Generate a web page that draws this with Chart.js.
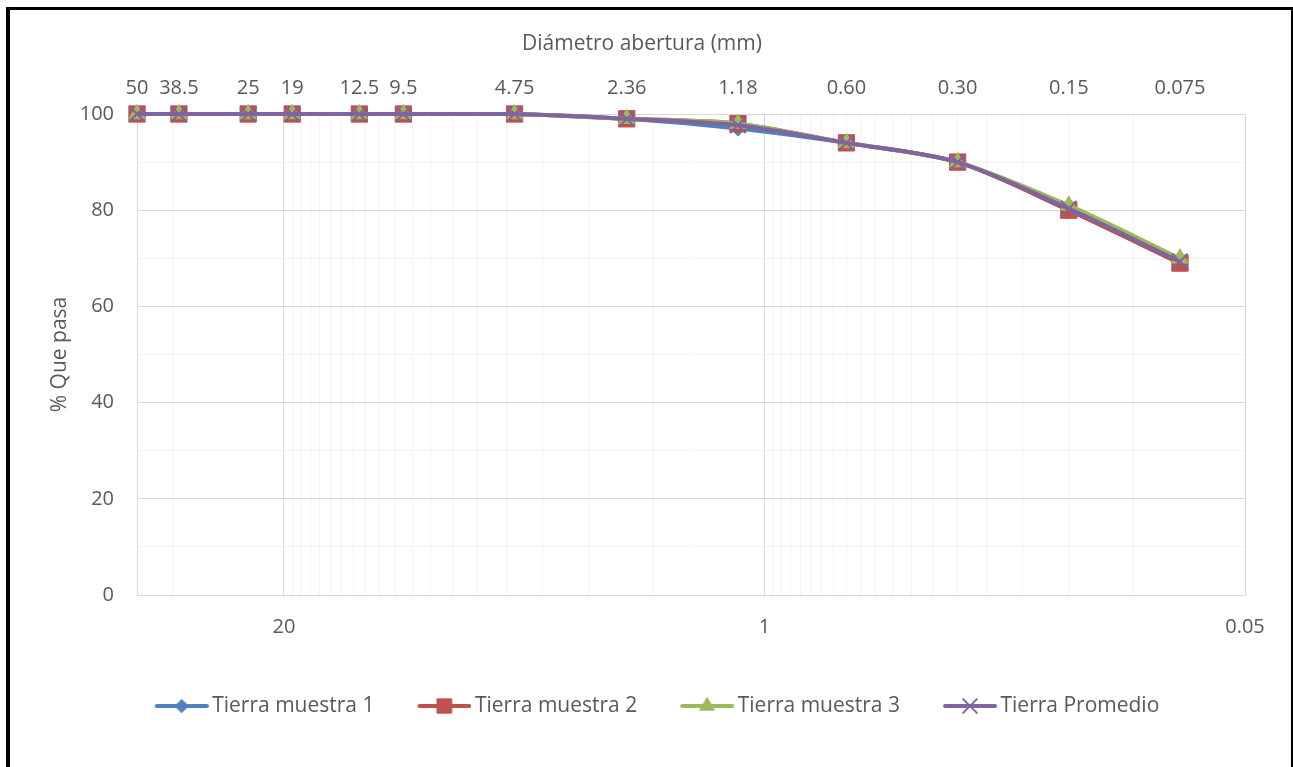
<!DOCTYPE html>
<html>
<head>
<meta charset="utf-8">
<title>Curva granulométrica</title>
<script src="https://cdn.jsdelivr.net/npm/chart.js@4.4.1/dist/chart.umd.min.js"></script>
<style>
  html, body { margin: 0; padding: 0; background: #fff; }
  #wrap { position: relative; width: 1293px; height: 767px; overflow: hidden; }
  #frame {
    position: absolute; left: 6px; top: 7px; width: 1281px; height: 800px;
    border-left: 4px solid #000; border-top: 3px solid #000; border-right: 2px solid #000;
  }
  #chart { position: absolute; left: 0; top: 0; }
</style>
</head>
<body>
<div id="wrap">
  <div id="frame"></div>
  <canvas id="chart" width="1293" height="767"></canvas>
</div>
<script>
// sieve openings (mm) and the labels printed above the plot
var sieveSizes = [50, 38.5, 25, 19, 12.5, 9.5, 4.75, 2.36, 1.18, 0.6, 0.3, 0.15, 0.075];
var sieveLabels = ['50', '38.5', '25', '19', '12.5', '9.5', '4.75', '2.36', '1.18', '0.60', '0.30', '0.15', '0.075'];

// % que pasa
var muestra1 = [100, 100, 100, 100, 100, 100, 100, 99, 97, 94, 90, 80, 69];
var muestra2 = [100, 100, 100, 100, 100, 100, 100, 99, 98, 94, 90, 80, 69];
var muestra3 = [100, 100, 100, 100, 100, 100, 100, 99, 98, 94, 90, 81, 70];
var promedio = [100, 100, 100, 100, 100, 100, 100, 99, 97.67, 94, 90, 80.33, 69.33];

// base-20 log axis
var axisMin = 0.05;
var axisMax = 50;
var majorTicks = [0.05, 1, 20];
var majorLabels = ['0.05', '1', '20'];

var GRID_MAJOR = '#d9d9d9';
var GRID_MINOR = '#f2f2f2';
var TEXT = '#595959';

Chart.defaults.font.family = '"Open Sans", sans-serif';
Chart.defaults.font.size = 20;
Chart.defaults.color = TEXT;

function majorIndex(v) {
    for (var i = 0; i < majorTicks.length; i++) {
        if (Math.abs(v - majorTicks[i]) / majorTicks[i] < 1e-6) return i;
    }
    return -1;
}

// gridlines at k * 20^n, like the minor ticks of a base-20 log axis
function baseTwentyTicks(min, max) {
    var out = [];
    for (var base = min; base <= max; base *= 20) {
        for (var k = 1; k < 20; k++) {
            var v = +(base * k).toPrecision(6);
            if (v <= max * (1 + 1e-9)) out.push({value: v});
        }
    }
    return out;
}

function series(label, values, color, style, radius, order) {
    return {
        label: label,
        data: sieveSizes.map(function (s, i) { return {x: s, y: values[i]}; }),
        borderColor: color,
        backgroundColor: color,
        borderWidth: 4,
        borderCapStyle: 'round',
        borderJoinStyle: 'round',
        pointStyle: style,
        pointRadius: radius,
        pointHoverRadius: radius,
        pointBackgroundColor: color,
        pointBorderColor: color,
        pointBorderWidth: style === 'crossRot' ? 2 : 1,
        tension: 0.3,
        clip: false,
        order: order,
        xAxisID: 'x',
        yAxisID: 'y'
    };
}

var datasets = [
    series('Tierra muestra 1', muestra1, '#4f81bd', 'rectRot', 7.5, 4),
    series('Tierra muestra 2', muestra2, '#c0504d', 'rect', 11.5, 3),
    series('Tierra muestra 3', muestra3, '#9bbb59', 'triangle', 9.5, 2),
    series('Tierra Promedio', promedio, '#8064a2', 'crossRot', 11, 1)
];

// legend entry: short line with the series marker in the middle
function makeSwatch(ds) {
    var c = document.createElement('canvas');
    c.width = 61;
    c.height = 24;
    var g = c.getContext('2d');
    g.strokeStyle = ds.borderColor;
    g.lineWidth = 4;
    g.lineCap = 'round';
    g.beginPath();
    g.moveTo(9, 12);
    g.lineTo(59, 12);
    g.stroke();
    g.fillStyle = ds.pointBackgroundColor;
    g.strokeStyle = ds.pointBorderColor;
    g.lineWidth = ds.pointBorderWidth;
    Chart.helpers.drawPoint(g, {
        pointStyle: ds.pointStyle,
        radius: ds.pointRadius * 0.88,
        rotation: 0,
        borderWidth: ds.pointBorderWidth
    }, 34, 12);
    return c;
}
var swatches = datasets.map(makeSwatch);

// the legend row sits a little right of the title's centre line
var legendShift = {
    id: 'legendShift',
    afterLayout: function (chart) {
        if (!chart.legend) return;
        chart.legend.left += 15;
        chart.legend.right += 15;
    }
};

new Chart(document.getElementById('chart'), {
    type: 'line',
    data: {datasets: datasets},
    plugins: [legendShift],
    options: {
        responsive: false,
        animation: false,
        layout: {padding: {left: 39, right: 48, top: 0, bottom: 40.5}},
        plugins: {
            tooltip: {enabled: false},
            title: {
                display: true,
                text: 'Diámetro abertura (mm)',
                color: TEXT,
                font: {size: 21, weight: 'normal'},
                padding: {top: 31.4, bottom: 0}
            },
            legend: {
                position: 'bottom',
                labels: {
                    usePointStyle: true,
                    pointStyleWidth: 47,
                    padding: 43,
                    color: TEXT,
                    font: {size: 21},
                    sort: function (a, b) { return a.datasetIndex - b.datasetIndex; },
                    generateLabels: function (chart) {
                        var items = Chart.defaults.plugins.legend.labels.generateLabels(chart);
                        items.forEach(function (it) { it.pointStyle = swatches[it.datasetIndex]; });
                        return items;
                    }
                }
            }
        },
        scales: {
            x: {
                type: 'logarithmic',
                position: 'bottom',
                reverse: true,
                min: axisMin,
                max: axisMax,
                afterBuildTicks: function (scale) {
                    scale.ticks = baseTwentyTicks(axisMin, axisMax);
                },
                afterFit: function (scale) { scale.height = 57.5; },
                ticks: {
                    autoSkip: false,
                    maxRotation: 0,
                    minRotation: 0,
                    padding: 20,
                    color: TEXT,
                    callback: function (value) {
                        var i = majorIndex(value);
                        return i >= 0 ? majorLabels[i] : '';
                    }
                },
                grid: {
                    drawTicks: false,
                    lineWidth: 1,
                    color: function (c) {
                        return c.tick && majorIndex(c.tick.value) >= 0 ? GRID_MAJOR : GRID_MINOR;
                    }
                },
                border: {display: true, color: GRID_MAJOR}
            },
            x2: {
                type: 'logarithmic',
                position: 'top',
                reverse: true,
                min: axisMin,
                max: axisMax,
                afterBuildTicks: function (scale) {
                    scale.ticks = sieveSizes.map(function (v) { return {value: v}; });
                },
                afterFit: function (scale) { scale.height = 57.4; },
                ticks: {
                    autoSkip: false,
                    maxRotation: 0,
                    minRotation: 0,
                    padding: 14,
                    color: TEXT,
                    callback: function (value, index) { return sieveLabels[index]; }
                },
                grid: {display: false, drawTicks: false},
                border: {display: false}
            },
            y: {
                type: 'linear',
                min: 0,
                max: 100,
                afterFit: function (scale) { scale.width = 98; },
                ticks: {
                    stepSize: 10,
                    autoSkip: false,
                    padding: 23,
                    color: TEXT,
                    callback: function (value) { return value % 20 === 0 ? value : ''; }
                },
                grid: {
                    drawTicks: false,
                    color: function (c) {
                        return c.tick && c.tick.value % 20 === 0 ? GRID_MAJOR : GRID_MINOR;
                    }
                },
                border: {display: true, color: GRID_MAJOR},
                title: {
                    display: true,
                    text: '% Que pasa',
                    color: TEXT,
                    font: {size: 21},
                    padding: {top: 8.4, bottom: 0}
                }
            }
        }
    }
});
</script>
</body>
</html>
